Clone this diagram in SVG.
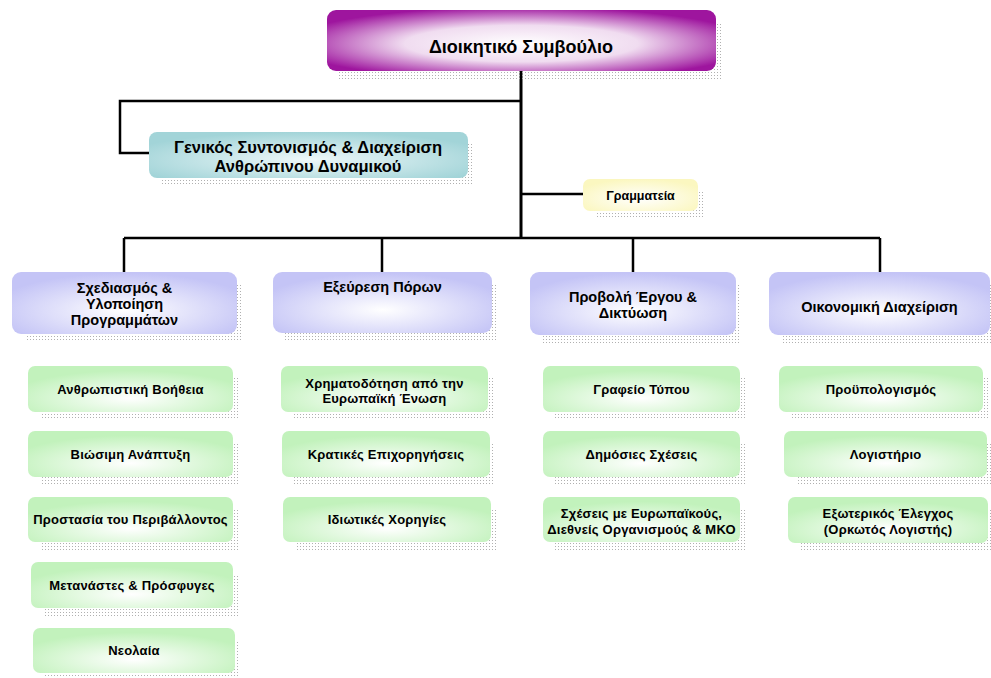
<svg xmlns="http://www.w3.org/2000/svg" width="991" height="678" viewBox="0 0 991 678">
<style>
.t{font-family:"Liberation Sans",Arial,sans-serif;font-weight:bold;fill:#000;text-anchor:middle}
.t1{font-size:18px}
.t2{font-size:16.5px}
.t3{font-size:14.5px}
.t4{font-size:13px;letter-spacing:0.2px}
.t5{font-size:12.5px}
.sh{fill:url(#dots)}
.ln{fill:none;stroke:#000;stroke-width:2.5}
</style>
<defs>
<pattern id="dots" width="3" height="3" patternUnits="userSpaceOnUse">
<rect x="0" y="0" width="1" height="1" fill="#b0b0b0"/>
</pattern>
<radialGradient id="gP" cx="0.5" cy="0.55" r="0.6">
<stop offset="0" stop-color="#ffffff"/>
<stop offset="0.5" stop-color="#f0dcf0"/>
<stop offset="1" stop-color="#9e159e"/>
</radialGradient>
<radialGradient id="gT" cx="0.5" cy="0.6" r="0.6">
<stop offset="0" stop-color="#eef8f9"/>
<stop offset="1" stop-color="#a2d4d8"/>
</radialGradient>
<radialGradient id="gY" cx="0.5" cy="0.6" r="0.6">
<stop offset="0" stop-color="#ffffff"/>
<stop offset="1" stop-color="#fbf7c0"/>
</radialGradient>
<radialGradient id="gL" cx="0.5" cy="0.62" r="0.6">
<stop offset="0" stop-color="#ffffff"/>
<stop offset="1" stop-color="#c4c4f6"/>
</radialGradient>
<radialGradient id="gG" cx="0.5" cy="0.7" r="0.6">
<stop offset="0" stop-color="#ffffff"/>
<stop offset="1" stop-color="#c2f2bc"/>
</radialGradient>
</defs>

<g id="connectors">
<path class="ln" d="M521 71 V239" style="stroke-width:3"/>
<path class="ln" d="M521 101 H120 V153 H149"/>
<path class="ln" d="M521 194 H583"/>
<path class="ln" d="M124 238 H880"/>
<path class="ln" d="M124 238 V272 M382 238 V272 M633 238 V272 M880 238 V272"/>
</g>

<g id="n-board">
<rect class="sh" x="339" y="22" width="383" height="57"/>
<rect x="327" y="10" width="389" height="61" rx="9" fill="url(#gP)"/>
<text class="t t1" x="521" y="52.5">Διοικητικό Συμβούλιο</text>
</g>

<g id="n-general">
<rect class="sh" x="161" y="144" width="313" height="42"/>
<rect x="149" y="132" width="319" height="46" rx="8" fill="url(#gT)"/>
<text class="t t2" x="308" y="153">Γενικός Συντονισμός &amp; Διαχείριση</text>
<text class="t t2" x="308" y="172">Ανθρώπινου Δυναμικού</text>
</g>

<g id="n-secretariat">
<rect class="sh" x="595" y="191" width="109" height="28"/>
<rect x="583" y="179" width="115" height="32" rx="7" fill="url(#gY)"/>
<text class="t t5" x="640.5" y="200">Γραμματεία</text>
</g>

<g id="n-planning">
<rect class="sh" x="25" y="285" width="217" height="57"/>
<rect x="12" y="272" width="225" height="62" rx="9" fill="url(#gL)"/>
<text class="t t3" x="124.5" y="293">Σχεδιασμός &amp;</text>
<text class="t t3" x="124.5" y="309">Υλοποίηση</text>
<text class="t t3" x="124.5" y="325">Προγραμμάτων</text>
</g>

<g id="n-funding">
<rect class="sh" x="285" y="285" width="212" height="56"/>
<rect x="273" y="272" width="219" height="61" rx="9" fill="url(#gL)"/>
<text class="t t3" x="382.5" y="292">Εξεύρεση Πόρων</text>
</g>

<g id="n-promotion">
<rect class="sh" x="542" y="285" width="199" height="58"/>
<rect x="530" y="272" width="206" height="63" rx="9" fill="url(#gL)"/>
<text class="t t3" x="633" y="302">Προβολή Έργου &amp;</text>
<text class="t t3" x="633" y="318">Δικτύωση</text>
</g>

<g id="n-finance">
<rect class="sh" x="781" y="285" width="210" height="58"/>
<rect x="769" y="272" width="221" height="63" rx="9" fill="url(#gL)"/>
<text class="t t3" x="879.5" y="312">Οικονομική Διαχείριση</text>
</g>

<g id="n-humanitarian">
<rect class="sh" x="40" y="378" width="198" height="42"/>
<rect x="28" y="366" width="205" height="46" rx="7" fill="url(#gG)"/>
<text class="t t4" x="130.5" y="393.5">Ανθρωπιστική Βοήθεια</text>
</g>
<g id="n-sustainable">
<rect class="sh" x="40" y="443" width="198" height="42"/>
<rect x="28" y="431" width="205" height="46" rx="7" fill="url(#gG)"/>
<text class="t t4" x="130.5" y="458.5">Βιώσιμη Ανάπτυξη</text>
</g>
<g id="n-environment">
<rect class="sh" x="40" y="509" width="198" height="41"/>
<rect x="28" y="497" width="205" height="45" rx="7" fill="url(#gG)"/>
<text class="t t4" x="130.5" y="524">Προστασία του Περιβάλλοντος</text>
</g>
<g id="n-migrants">
<rect class="sh" x="43" y="574" width="195" height="42"/>
<rect x="31" y="562" width="202" height="46" rx="7" fill="url(#gG)"/>
<text class="t t4" x="132" y="589.5">Μετανάστες &amp; Πρόσφυγες</text>
</g>
<g id="n-youth">
<rect class="sh" x="45" y="640" width="195" height="38"/>
<rect x="33" y="628" width="202" height="45" rx="7" fill="url(#gG)"/>
<text class="t t4" x="134" y="655">Νεολαία</text>
</g>

<g id="n-eu">
<rect class="sh" x="293" y="378" width="200" height="42"/>
<rect x="281" y="366" width="207" height="46" rx="7" fill="url(#gG)"/>
<text class="t t4" x="384.5" y="388">Χρηματοδότηση από την</text>
<text class="t t4" x="384.5" y="403">Ευρωπαϊκή Ένωση</text>
</g>
<g id="n-state">
<rect class="sh" x="294" y="443" width="201" height="42"/>
<rect x="282" y="431" width="208" height="46" rx="7" fill="url(#gG)"/>
<text class="t t4" x="386" y="458.5">Κρατικές Επιχορηγήσεις</text>
</g>
<g id="n-private">
<rect class="sh" x="295" y="509" width="201" height="41"/>
<rect x="283" y="497" width="208" height="45" rx="7" fill="url(#gG)"/>
<text class="t t4" x="387" y="524">Ιδιωτικές Χορηγίες</text>
</g>

<g id="n-press">
<rect class="sh" x="555" y="378" width="190" height="42"/>
<rect x="543" y="366" width="197" height="46" rx="7" fill="url(#gG)"/>
<text class="t t4" x="641.5" y="393.5">Γραφείο Τύπου</text>
</g>
<g id="n-pr">
<rect class="sh" x="555" y="443" width="190" height="42"/>
<rect x="543" y="431" width="197" height="46" rx="7" fill="url(#gG)"/>
<text class="t t4" x="641.5" y="458.5">Δημόσιες Σχέσεις</text>
</g>
<g id="n-relations">
<rect class="sh" x="555" y="509" width="190" height="41"/>
<rect x="543" y="497" width="197" height="45" rx="7" fill="url(#gG)"/>
<text class="t t4" x="641.5" y="518">Σχέσεις με Ευρωπαϊκούς,</text>
<text class="t t4" x="641.5" y="534">Διεθνείς Οργανισμούς &amp; ΜΚΟ</text>
</g>

<g id="n-budget">
<rect class="sh" x="791" y="378" width="197" height="42"/>
<rect x="779" y="366" width="204" height="46" rx="7" fill="url(#gG)"/>
<text class="t t4" x="881" y="393.5">Προϋπολογισμός</text>
</g>
<g id="n-accounting">
<rect class="sh" x="796" y="443" width="195" height="42"/>
<rect x="784" y="431" width="203" height="46" rx="7" fill="url(#gG)"/>
<text class="t t4" x="885.5" y="458.5">Λογιστήριο</text>
</g>
<g id="n-audit">
<rect class="sh" x="800" y="509" width="191" height="42"/>
<rect x="788" y="497" width="200" height="46" rx="7" fill="url(#gG)"/>
<text class="t t4" x="888" y="518">Εξωτερικός Έλεγχος</text>
<text class="t t4" x="888" y="534">(Ορκωτός Λογιστής)</text>
</g>
</svg>
